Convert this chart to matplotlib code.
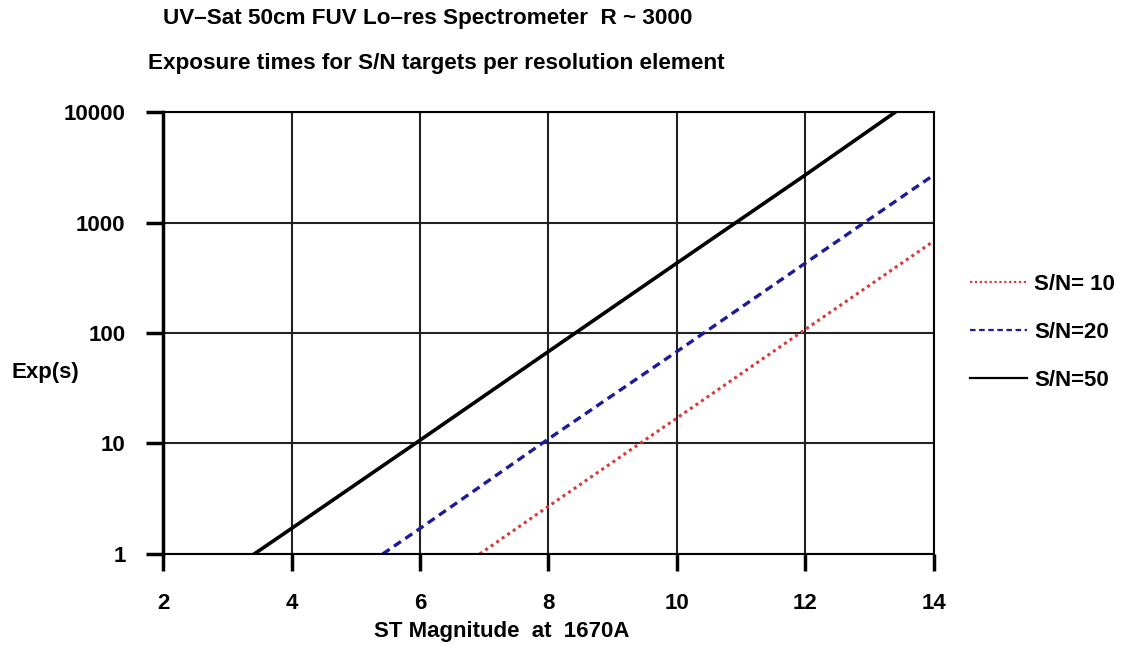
import numpy as np
import matplotlib
matplotlib.use('Agg')
import matplotlib.pyplot as plt

plt.rcParams['font.family'] = ['Liberation Sans', 'DejaVu Sans']
plt.rcParams['font.weight'] = 'bold'

# magnitudes and exposure times (s)
mag_sn10 = [6.93, 8, 10, 12, 14]
exp_sn10 = [1, 2.7, 17, 108, 680]

mag_sn20 = [5.42, 6, 8, 10, 12, 14]
exp_sn20 = [1, 1.7, 11, 68, 430, 2700]

mag_sn50 = [3.42, 4, 6, 8, 10, 12, 13.4]
exp_sn50 = [1, 1.7, 10.7, 68, 430, 2700, 10000]

xticks = [2, 4, 6, 8, 10, 12, 14]
yticks = [1, 10, 100, 1000, 10000]

fig = plt.figure(figsize=(11.25, 6.54), dpi=100)
ax = fig.add_axes([0.1449, 0.153, 0.6853, 0.6757])

ax.plot(mag_sn10, exp_sn10, color='#d83a3a', lw=2.2, ls=(0, (1, 1.2)), label='S/N= 10')
ax.plot(mag_sn20, exp_sn20, color='#1c1c9a', lw=2.4, ls=(0, (2.5, 1.6)), label='S/N=20')
ax.plot(mag_sn50, exp_sn50, color='black', lw=2.6, label='S/N=50')

ax.set_yscale('log')
ax.set_xlim(2, 14)
ax.set_ylim(1, 10000)
ax.set_xticks(xticks)
ax.set_xticklabels([str(t) for t in xticks])
ax.set_yticks(yticks)
ax.set_yticklabels([str(t) for t in yticks])
ax.yaxis.set_minor_locator(matplotlib.ticker.NullLocator())

ax.grid(True, color='#222222', lw=1.5)
ax.set_axisbelow(True)
for side in ['top', 'right', 'bottom']:
  ax.spines[side].set_linewidth(1.5)
ax.spines['left'].set_linewidth(2.5)
ax.tick_params(axis='both', which='major', labelsize=16, width=2.5, length=12,
               direction='out')
ax.tick_params(axis='y', pad=15)
ax.tick_params(axis='x', pad=16)

ax.set_xlabel('ST Magnitude  at  1670A', fontsize=16, fontweight='bold', va='center')
ax.xaxis.set_label_coords(0.44, -0.176)
ax.set_ylabel('Exp(s)', fontsize=16, fontweight='bold', rotation=0,
              ha='left', va='center')
ax.yaxis.set_label_coords(-0.196, 0.41)

fig.text(0.145, 0.972, 'UV\u2013Sat 50cm FUV Lo\u2013res Spectrometer  R ~ 3000',
         fontsize=16.2, fontweight='bold', va='center', ha='left')
fig.text(0.1315, 0.903, 'Exposure times for S/N targets per resolution element',
         fontsize=16.2, fontweight='bold', va='center', ha='left')

leg = ax.legend(loc='upper left', bbox_to_anchor=(0.854, 0.595), bbox_transform=fig.transFigure,
                frameon=False, fontsize=16, handlelength=2.6, handletextpad=0.3,
                labelspacing=1.22, borderaxespad=0)
for h in leg.get_lines():
  h.set_linewidth(1.6)

fig.savefig('out.png', dpi=100)
